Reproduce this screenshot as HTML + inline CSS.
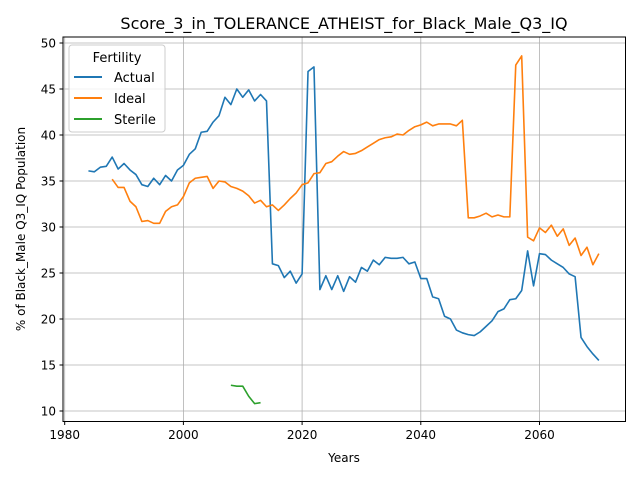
<!DOCTYPE html>
<html><head><meta charset="utf-8"><style>
body{margin:0;background:#fff;}
svg{display:block;font-family:"DejaVu Sans","Liberation Sans",sans-serif;}
</style></head><body>
<svg id="chart" width="640" height="480" viewBox="0 0 640 480" xmlns="http://www.w3.org/2000/svg">
<rect width="640" height="480" fill="#fff"/>
<g id="grid"></g>
<g id="series"></g>
<rect x="63" y="37" width="562.5" height="384.5" fill="none" stroke="#000" stroke-width="1"/>
<g id="ticks" font-size="12" fill="#000"></g>
<text x="344" y="29" text-anchor="middle" font-size="16">Score_3_in_TOLERANCE_ATHEIST_for_Black_Male_Q3_IQ</text>
<text x="344" y="462" text-anchor="middle" font-size="12">Years</text>
<text transform="translate(25,229) rotate(-90)" text-anchor="middle" font-size="12">% of Black_Male Q3_IQ Population</text>
<g>
<rect x="69" y="45" width="96" height="87" rx="3" fill="#fff" fill-opacity="0.8" stroke="#ccc"/>
<text x="117" y="62" text-anchor="middle" font-size="13">Fertility</text>
<line x1="74" y1="77" x2="102" y2="77" stroke="#1f77b4" stroke-width="2"/><text x="114" y="82" font-size="13">Actual</text>
<line x1="74" y1="98" x2="102" y2="98" stroke="#ff7f0e" stroke-width="2"/><text x="114" y="103" font-size="13">Ideal</text>
<line x1="74" y1="119" x2="102" y2="119" stroke="#2ca02c" stroke-width="2"/><text x="114" y="124" font-size="13">Sterile</text>
</g>
</svg>
<script>
const actualStart = 1984;
const actualValues = [36.1,36.0,36.5,36.6,37.6,36.3,36.9,36.2,35.7,34.6,34.4,35.3,34.6,35.6,35.0,36.2,36.7,37.9,38.5,40.3,40.4,41.4,42.1,44.1,43.3,45.0,44.1,44.9,43.7,44.4,43.7,26.0,25.8,24.5,25.2,23.9,24.9,46.9,47.4,23.2,24.7,23.2,24.7,23.0,24.6,24.0,25.6,25.2,26.4,25.9,26.7,26.6,26.6,26.7,26.0,26.2,24.4,24.4,22.4,22.2,20.3,20.0,18.8,18.5,18.3,18.2,18.6,19.2,19.8,20.8,21.1,22.1,22.2,23.1,27.4,23.6,27.1,27.0,26.4,26.0,25.6,24.9,24.6,18.0,17.0,16.2,15.5];
const idealStart = 1988;
const idealValues = [35.2,34.3,34.3,32.8,32.2,30.6,30.7,30.4,30.4,31.7,32.2,32.4,33.3,34.8,35.3,35.4,35.5,34.2,35.0,34.9,34.4,34.2,33.9,33.4,32.6,32.9,32.2,32.4,31.8,32.4,33.1,33.7,34.6,34.8,35.8,35.9,36.9,37.1,37.7,38.2,37.9,38.0,38.3,38.7,39.1,39.5,39.7,39.8,40.1,40.0,40.5,40.9,41.1,41.4,41.0,41.2,41.2,41.2,41.0,41.6,31.0,31.0,31.2,31.5,31.1,31.3,31.1,31.1,47.6,48.6,28.9,28.5,29.9,29.4,30.2,29.0,29.8,28.0,28.8,26.9,27.8,25.9,27.1];
const sterileStart = 2008;
const sterileValues = [12.8,12.7,12.7,11.6,10.8,10.9];
const xTicks = [1980,2000,2020,2040,2060];
const yTicks = [10,15,20,25,30,35,40,45,50];

const X = y => 64.7 + (y - 1980) * 5.935;
const Y = v => 411 - (v - 10) * 9.2;
const NS = "http://www.w3.org/2000/svg";
const grid = document.getElementById('grid');
const ticks = document.getElementById('ticks');
const series = document.getElementById('series');

xTicks.forEach(t => {
  const l = document.createElementNS(NS,'line');
  l.setAttribute('x1',X(t));l.setAttribute('x2',X(t));l.setAttribute('y1',37);l.setAttribute('y2',421.5);
  l.setAttribute('stroke','#b0b0b0');l.setAttribute('stroke-width','0.8');
  
  
  grid.appendChild(l);
  const tk = document.createElementNS(NS,'line');
  tk.setAttribute('x1',X(t));tk.setAttribute('x2',X(t));tk.setAttribute('y1',421.5);tk.setAttribute('y2',425);tk.setAttribute('stroke','#000');
  
  
  ticks.appendChild(tk);
  const tx = document.createElementNS(NS,'text');
  tx.setAttribute('x',X(t));tx.setAttribute('y',439);tx.setAttribute('text-anchor','middle');tx.textContent=t;
  
  
  ticks.appendChild(tx);
});
yTicks.forEach(t => {
  const l = document.createElementNS(NS,'line');
  l.setAttribute('x1',63);l.setAttribute('x2',625.5);l.setAttribute('y1',Y(t));l.setAttribute('y2',Y(t));
  l.setAttribute('stroke','#b0b0b0');l.setAttribute('stroke-width','0.8');
  
  
  grid.appendChild(l);
  const tk = document.createElementNS(NS,'line');
  tk.setAttribute('x1',59.5);tk.setAttribute('x2',63);tk.setAttribute('y1',Y(t));tk.setAttribute('y2',Y(t));tk.setAttribute('stroke','#000');
  
  
  ticks.appendChild(tk);
  const tx = document.createElementNS(NS,'text');
  tx.setAttribute('x',56);tx.setAttribute('y',Y(t)+4.5);tx.setAttribute('text-anchor','end');tx.textContent=t;
  
  
  ticks.appendChild(tx);
});
function drawLine(start, vals, color, name){
  const p = document.createElementNS(NS,'polyline');
  p.setAttribute('points', vals.map((v,i)=>X(start+i).toFixed(2)+','+Y(v).toFixed(2)).join(' '));
  p.setAttribute('fill','none');p.setAttribute('stroke',color);p.setAttribute('stroke-width','1.6');p.setAttribute('stroke-linejoin','round');
  
  
  series.appendChild(p);
}
drawLine(actualStart, actualValues, '#1f77b4', 'actual-line');
drawLine(idealStart, idealValues, '#ff7f0e', 'ideal-line');
drawLine(sterileStart, sterileValues, '#2ca02c', 'sterile-line');
</script>
</body></html>
